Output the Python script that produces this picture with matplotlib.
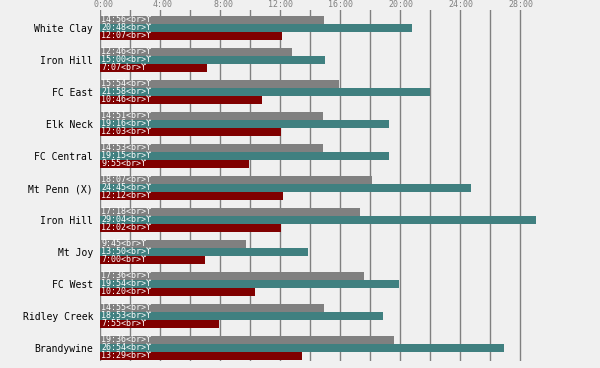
import matplotlib
matplotlib.use('Agg')
import matplotlib.pyplot as plt
import matplotlib.transforms as mtransforms
import numpy as np

categories = ['White Clay', 'Iron Hill', 'FC East', 'Elk Neck', 'FC Central',
              'Mt Penn (X)', 'Iron Hill', 'Mt Joy', 'FC West', 'Ridley Creek',
              'Brandywine']
series_gray = ['14:56', '12:46', '15:54', '14:51', '14:53', '18:07', '17:18',
               '9:45', '17:36', '14:55', '19:36']
series_teal = ['20:48', '15:00', '21:58', '19:16', '19:15', '24:45', '29:04',
               '13:50', '19:54', '18:53', '26:54']
series_red = ['12:07', '7:07', '10:46', '12:03', '9:55', '12:12', '12:02',
              '7:00', '10:20', '7:55', '13:29']
tick_minutes = list(range(0, 29, 4))


def to_min(s):
    m, sec = s.split(':')
    return int(m) + int(sec) / 60.0


colors = ['#808080', '#408080', '#800000']
bg = '#f0f0f0'
mono = 'DejaVu Sans Mono'

fig = plt.figure(figsize=(6.0, 3.68), dpi=100, facecolor=bg)
ax = fig.add_axes([100 / 600, 7 / 368, 500 / 600, 351 / 368])
ax.set_facecolor(bg)

n = len(categories)
h = 0.25
idx = np.arange(n)
for k, (ser, c) in enumerate(zip([series_gray, series_teal, series_red], colors)):
    vals = [to_min(s) for s in ser]
    ypos = idx + k * h
    ax.barh(ypos, vals, height=h, align='edge', color=c, zorder=2)
    for y, s in zip(ypos, ser):
        ax.text(0.08, y + h / 2, f'{s}<br>\u03d2', color='white', fontsize=6,
                family=mono, va='center', ha='left', zorder=3)

ax.set_xlim(0, 500 / 15)
ax.set_ylim(11 - 0.25 + 1 / 32, -6 / 32)

ax.set_xticks(tick_minutes)
ax.set_xticklabels([f'{m}:00' for m in tick_minutes], family=mono, fontsize=6,
                   color='#808080')
ax.set_xticks(range(2, 29, 4), minor=True)
ax.xaxis.tick_top()
ax.tick_params(axis='x', which='both', length=0, pad=1)
for lab in ax.get_xticklabels():
    lab.set_horizontalalignment('right')
    lab.set_transform(lab.get_transform() +
                      mtransforms.ScaledTranslation(13 / 100, 0, fig.dpi_scale_trans))
ax.grid(axis='x', which='both', color='#808080', linewidth=1, zorder=1)
ax.set_axisbelow(True)

ax.set_yticks(idx + 1.5 * h)
ax.set_yticklabels(categories, family=mono, fontsize=7, color='black')
ax.tick_params(axis='y', length=0, pad=5)

for sp in ax.spines.values():
    sp.set_visible(False)

fig.savefig('out.png', dpi=100, facecolor=bg)
